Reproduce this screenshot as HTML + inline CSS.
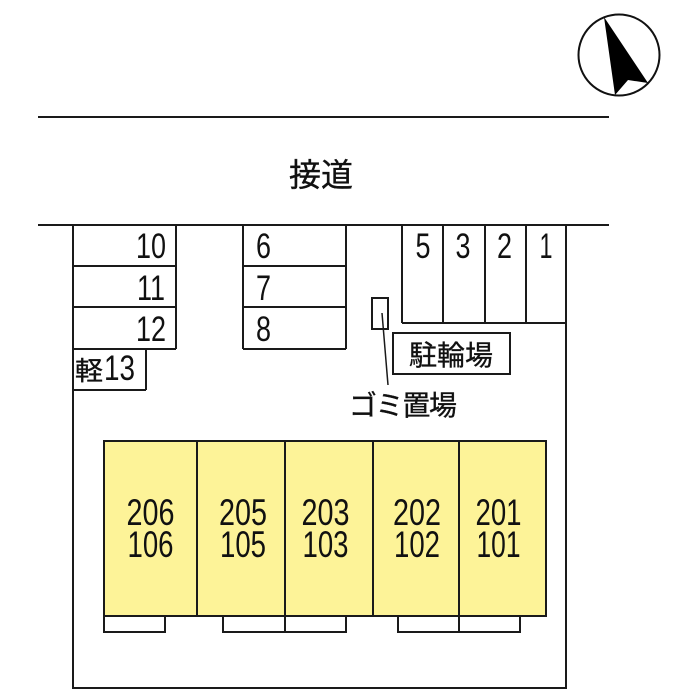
<!DOCTYPE html>
<html><head><meta charset="utf-8"><style>
html,body{margin:0;padding:0;background:#fff;width:700px;height:700px;overflow:hidden}
svg{display:block}
text{font-family:"Liberation Sans","Noto Sans CJK JP",sans-serif;fill:#111}
.n{font-size:35px}
.r{font-size:37px}
.k{stroke:#111;stroke-width:.35px}
</style></head><body>
<svg width="700" height="700" viewBox="0 0 700 700" xmlns="http://www.w3.org/2000/svg">
<rect width="700" height="700" fill="#fff"/>
<circle cx="619" cy="55" r="40.5" fill="#fff" stroke="#111" stroke-width="2"/>
<polygon points="604,17 648,83 628,80 615,95" fill="#000"/>
<g stroke="#1a1a1a" stroke-width="2" fill="none">
<path d="M38 117H609M38 225H609"/>
<path d="M73 225V688H566V225"/>
<path d="M73 266H176M73 307H176M176 225V349M73 349H176M146 349V390M73 390H146"/>
<path d="M243 225V349M346 225V349M243 266H346M243 307H346M243 349H346"/>
<path d="M402 225V323M443 225V323M485 225V323M526 225V323M402 323H566"/>
<rect x="372" y="298" width="16" height="31"/>
<rect x="393" y="333" width="117" height="41"/>
<path d="M382 313L388 385" stroke-width="1.500"/>
<path d="M104 616V632H165V616M223 616V632H346V616M285 616V632M398 616V632H520V616M459 616V632"/>
<rect x="104" y="441" width="442" height="175" fill="#fdf398"/>
<path d="M197 441V616M285 441V616M373 441V616M459 441V616"/>
</g>
<text x="321" y="186" font-size="32" text-anchor="middle" textLength="64" class="k">接道</text>
<text x="151" y="258" text-anchor="middle" class="n" textLength="30" lengthAdjust="spacingAndGlyphs">10</text>
<text x="151" y="300" text-anchor="middle" class="n" textLength="28" lengthAdjust="spacingAndGlyphs">11</text>
<text x="151" y="341" text-anchor="middle" class="n" textLength="30" lengthAdjust="spacingAndGlyphs">12</text>
<text x="263.500" y="258" text-anchor="middle" class="n" textLength="15" lengthAdjust="spacingAndGlyphs">6</text>
<text x="263.500" y="300" text-anchor="middle" class="n" textLength="15" lengthAdjust="spacingAndGlyphs">7</text>
<text x="263.500" y="341" text-anchor="middle" class="n" textLength="15" lengthAdjust="spacingAndGlyphs">8</text>
<text x="423" y="258" text-anchor="middle" class="n" textLength="15" lengthAdjust="spacingAndGlyphs">5</text>
<text x="463" y="258" text-anchor="middle" class="n" textLength="15" lengthAdjust="spacingAndGlyphs">3</text>
<text x="504.500" y="258" text-anchor="middle" class="n" textLength="15" lengthAdjust="spacingAndGlyphs">2</text>
<text x="546" y="258" text-anchor="middle" class="n" textLength="13" lengthAdjust="spacingAndGlyphs">1</text>
<text x="75" y="380" font-size="26" textLength="28" lengthAdjust="spacingAndGlyphs" class="k">軽</text>
<text x="104" y="380" class="n" textLength="31" lengthAdjust="spacingAndGlyphs">13</text>
<text x="451" y="365" font-size="28" text-anchor="middle" textLength="84" class="k">駐輪場</text>
<text x="403" y="415" font-size="28" text-anchor="middle" textLength="108" class="k">ゴミ置場</text>
<text x="150.500" y="525" text-anchor="middle" class="r" textLength="48" lengthAdjust="spacingAndGlyphs">206</text>
<text x="150.500" y="557" text-anchor="middle" class="r" textLength="46" lengthAdjust="spacingAndGlyphs">106</text>
<text x="243" y="525" text-anchor="middle" class="r" textLength="48" lengthAdjust="spacingAndGlyphs">205</text>
<text x="243" y="557" text-anchor="middle" class="r" textLength="46" lengthAdjust="spacingAndGlyphs">105</text>
<text x="325.500" y="525" text-anchor="middle" class="r" textLength="48" lengthAdjust="spacingAndGlyphs">203</text>
<text x="325.500" y="557" text-anchor="middle" class="r" textLength="46" lengthAdjust="spacingAndGlyphs">103</text>
<text x="417" y="525" text-anchor="middle" class="r" textLength="48" lengthAdjust="spacingAndGlyphs">202</text>
<text x="417" y="557" text-anchor="middle" class="r" textLength="46" lengthAdjust="spacingAndGlyphs">102</text>
<text x="498.500" y="525" text-anchor="middle" class="r" textLength="46" lengthAdjust="spacingAndGlyphs">201</text>
<text x="498.500" y="557" text-anchor="middle" class="r" textLength="44" lengthAdjust="spacingAndGlyphs">101</text>
</svg>
</body></html>
